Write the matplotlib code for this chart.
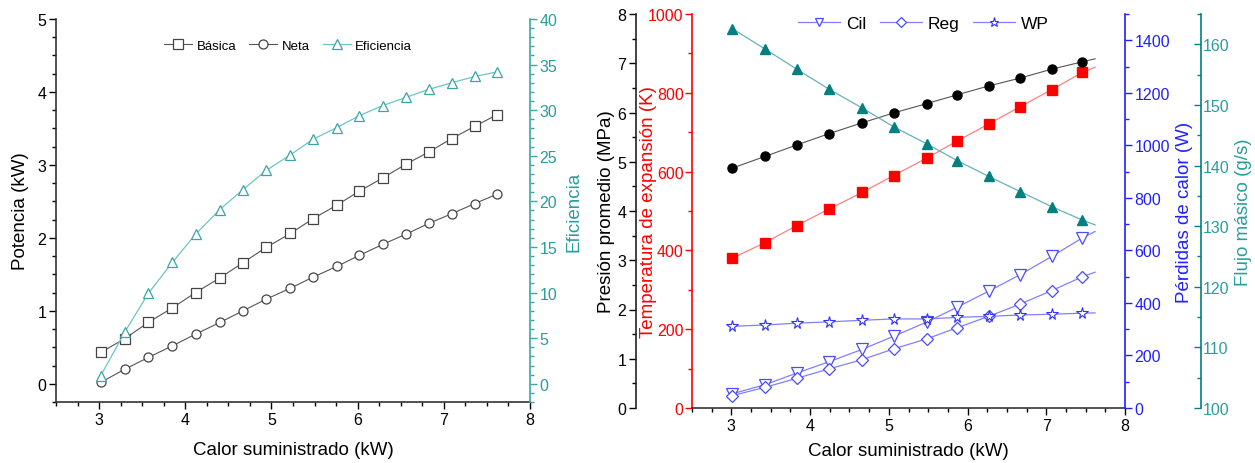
import matplotlib
matplotlib.use("Agg")
import matplotlib.pyplot as plt
from matplotlib.ticker import MultipleLocator

plt.rcParams["font.family"] = ["Liberation Sans", "DejaVu Sans"]

# ---- left panel data ----
calor_a = [3.02, 3.30, 3.57, 3.85, 4.12, 4.40, 4.67, 4.94, 5.22, 5.48,
           5.76, 6.02, 6.29, 6.56, 6.83, 7.09, 7.36, 7.62]
basica = [0.43, 0.62, 0.84, 1.04, 1.25, 1.45, 1.66, 1.87, 2.06, 2.26,
          2.45, 2.64, 2.82, 3.01, 3.18, 3.36, 3.53, 3.69]
neta = [0.02, 0.20, 0.36, 0.52, 0.68, 0.84, 1.00, 1.16, 1.31, 1.46,
        1.61, 1.76, 1.91, 2.05, 2.20, 2.33, 2.47, 2.60]
eficiencia = [0.9, 5.7, 9.9, 13.3, 16.4, 19.1, 21.3, 23.4, 25.1, 26.8,
              28.1, 29.4, 30.5, 31.4, 32.3, 33.0, 33.7, 34.2]

# ---- right panel data (last value = end of the drawn line, no marker) ----
calor_b = [3.01, 3.43, 3.83, 4.24, 4.66, 5.06, 5.48, 5.87, 6.27, 6.67, 7.07, 7.46, 7.62]
presion = [4.87, 5.11, 5.34, 5.57, 5.79, 5.99, 6.18, 6.36, 6.54, 6.70, 6.88, 7.03, 7.09]
temperatura = [380, 420, 463, 505, 547, 590, 634, 678, 721, 765, 808, 852, 865]
flujo = [162.6, 159.2, 155.9, 152.6, 149.5, 146.4, 143.6, 140.8, 138.2, 135.7, 133.2, 131.0, 130.2]
cil = [54, 89, 133, 176, 223, 273, 327, 384, 445, 508, 577, 648, 672]
reg = [47, 79, 113, 149, 184, 225, 263, 306, 349, 396, 447, 500, 517]
wp = [311, 316, 323, 328, 334, 339, 339, 345, 349, 354, 357, 361, 362]
n_mark = 12

W, H = 1255, 464
DPI = 100
fig = plt.figure(figsize=(W / DPI, H / DPI), dpi=DPI)


def box(x0, y0, x1, y1):
    return [x0 / W, 1 - y1 / H, (x1 - x0) / W, (y1 - y0) / H]


def px2pt(px):
    return px * 72.0 / DPI


TEAL_L = "#3aa5a5"
TEAL_R = "#008080"
BLUE = "#2020ff"
tick_kw = dict(labelsize=11.5, width=1.0, length=5, direction="out", pad=2)
minor_kw = dict(width=1.0, length=3, direction="out")

# ================= left panel =================
ax = fig.add_axes(box(56, 20, 530, 403))
ax.plot(calor_a, basica, "-s", color="#555555", lw=0.8, ms=6.5, mfc="white",
        mec="#444444", mew=0.9, label="Básica")
ax.plot(calor_a, neta, "-o", color="#555555", lw=0.8, ms=6.5, mfc="white",
        mec="#444444", mew=0.9, label="Neta")
axe = ax.twinx()
axe.plot(calor_a, eficiencia, "-^", color="#6cc5c5", lw=0.9, ms=7.5, mfc="white",
         mec=TEAL_L, mew=0.9, label="Eficiencia")

ax.set_xlim(2.5, 8)
ax.set_ylim(-0.25, 5)
axe.set_ylim(-2, 40)
ax.xaxis.set_major_locator(MultipleLocator(1))
ax.xaxis.set_minor_locator(MultipleLocator(0.25))
ax.yaxis.set_major_locator(MultipleLocator(1))
ax.yaxis.set_minor_locator(MultipleLocator(0.25))
axe.yaxis.set_major_locator(MultipleLocator(5))
axe.yaxis.set_minor_locator(MultipleLocator(1))
for a in (ax, axe):
    a.spines["top"].set_visible(False)
    a.tick_params(which="major", **tick_kw)
    a.tick_params(which="minor", **minor_kw)
ax.spines["right"].set_visible(False)
axe.spines["left"].set_visible(False)
axe.spines["bottom"].set_visible(False)
for s in ("left", "bottom"):
    ax.spines[s].set_linewidth(1.2)
    ax.spines[s].set_color("#333333")
axe.spines["right"].set_color(TEAL_L)
axe.spines["right"].set_linewidth(1.2)
axe.tick_params(axis="y", which="both", colors=TEAL_L, labelcolor="#2a9d9d")
ax.set_xlabel("Calor suministrado (kW)", fontsize=13.5, labelpad=10)
ax.set_ylabel("Potencia (kW)", fontsize=13.5, labelpad=6)
axe.set_ylabel("Eficiencia", fontsize=13.5, color="#2a9d9d", labelpad=6)

h1, l1 = ax.get_legend_handles_labels()
h2, l2 = axe.get_legend_handles_labels()
axe.legend(h1 + h2, l1 + l2, loc="center", bbox_to_anchor=(0.49, 0.93), ncol=3,
           frameon=False, fontsize=9.5, handlelength=2.1, columnspacing=1.0,
           handletextpad=0.35, numpoints=1)

# ================= right panel =================
x0, y0, x1, y1 = 692, 15, 1125, 409
axt = fig.add_axes(box(x0, y0, x1, y1))   # temperature (red, left)
axp = axt.twinx()                           # pressure (black, outer left)
axq = axt.twinx()                           # heat losses (blue, right)
axf = axt.twinx()                           # mass flow (teal, outer right)

axp.plot(calor_b, presion, "-o", color="#555555", lw=0.8, ms=6.5, mfc="black",
         mec="black", markevery=slice(0, n_mark))
axt.plot(calor_b, temperatura, "-s", color="#ff8080", lw=0.9, ms=6.5, mfc="red",
         mec="red", markevery=slice(0, n_mark))
axf.plot(calor_b, flujo, "-^", color="#66b3b3", lw=0.9, ms=7.5, mfc=TEAL_R,
         mec=TEAL_R, markevery=slice(0, n_mark))
axq.plot(calor_b, cil, "-v", color="#8080ff", lw=0.9, ms=8, mfc="white",
         mec="#4a4aff", mew=0.9, markevery=slice(0, n_mark), label="Cil")
axq.plot(calor_b, reg, "-D", color="#8080ff", lw=0.9, ms=6.5, mfc="white",
         mec="#4a4aff", mew=0.9, markevery=slice(0, n_mark), label="Reg")
axq.plot(calor_b, wp, "-*", color="#8080ff", lw=0.9, ms=8.5, mfc="white",
         mec="#3030ff", mew=0.8, markevery=slice(0, n_mark), label="WP")

axt.set_xlim(2.5, 8)
axt.set_ylim(0, 1000)
axp.set_ylim(0, 8)
axq.set_ylim(0, 1500)
axf.set_ylim(100, 165)
axt.xaxis.set_major_locator(MultipleLocator(1))
axt.xaxis.set_minor_locator(MultipleLocator(0.25))
axt.yaxis.set_major_locator(MultipleLocator(200))
axt.yaxis.set_minor_locator(MultipleLocator(100))
axp.yaxis.set_major_locator(MultipleLocator(1))
axp.yaxis.set_minor_locator(MultipleLocator(0.5))
axq.yaxis.set_major_locator(MultipleLocator(200))
axq.yaxis.set_minor_locator(MultipleLocator(100))
axf.yaxis.set_major_locator(MultipleLocator(10))
axf.yaxis.set_minor_locator(MultipleLocator(5))

for a in (axt, axp, axq, axf):
    a.spines["top"].set_visible(False)
    a.tick_params(which="major", **tick_kw)
    a.tick_params(which="minor", **minor_kw)
    for s in ("left", "right", "bottom"):
        a.spines[s].set_visible(False)

axt.spines["bottom"].set_visible(True)
axt.spines["bottom"].set_color("#333333")
axt.spines["bottom"].set_linewidth(1.2)

axt.spines["left"].set_visible(True)
axt.spines["left"].set_color("red")
axt.spines["left"].set_linewidth(1.2)
axt.tick_params(axis="y", which="both", colors="red", labelcolor="red", pad=1)

axp.spines["left"].set_visible(True)
axp.spines["left"].set_position(("outward", px2pt(56)))
axp.spines["left"].set_linewidth(1.2)
axp.spines["left"].set_color("#222222")
axp.yaxis.set_ticks_position("left")
axp.yaxis.set_label_position("left")

axq.spines["right"].set_visible(True)
axq.spines["right"].set_color(BLUE)
axq.spines["right"].set_linewidth(1.2)
axq.tick_params(axis="y", which="both", colors=BLUE, labelcolor=BLUE)

axf.spines["right"].set_visible(True)
axf.spines["right"].set_position(("outward", px2pt(76)))
axf.spines["right"].set_color(TEAL_R)
axf.spines["right"].set_linewidth(1.2)
axf.tick_params(axis="y", which="both", direction="in", colors=TEAL_R,
                labelcolor="#2a9d9d", pad=1)

axt.set_xlabel("Calor suministrado (kW)", fontsize=13.5, labelpad=7)
axp.set_ylabel("Presión promedio (MPa)", fontsize=13.5)
axt.set_ylabel("Temperatura de expansión (K)", fontsize=13.5, color="red")
axq.set_ylabel("Pérdidas de calor (W)", fontsize=13.5, color=BLUE)
axf.set_ylabel("Flujo másico (g/s)", fontsize=13.5, color="#2a9d9d")
axp.yaxis.set_label_coords(-0.177, 0.5)
axt.yaxis.set_label_coords(-0.081, 0.5)
axq.yaxis.set_label_coords(1.118, 0.5)
axf.yaxis.set_label_coords(1.254, 0.5)

axq.legend(loc="center", bbox_to_anchor=(0.535, 0.975), ncol=3, frameon=False,
           fontsize=12.5, handlelength=2.4, columnspacing=0.8, handletextpad=0.35,
           numpoints=1, markerscale=0.8)

fig.savefig("out.png", dpi=DPI)
